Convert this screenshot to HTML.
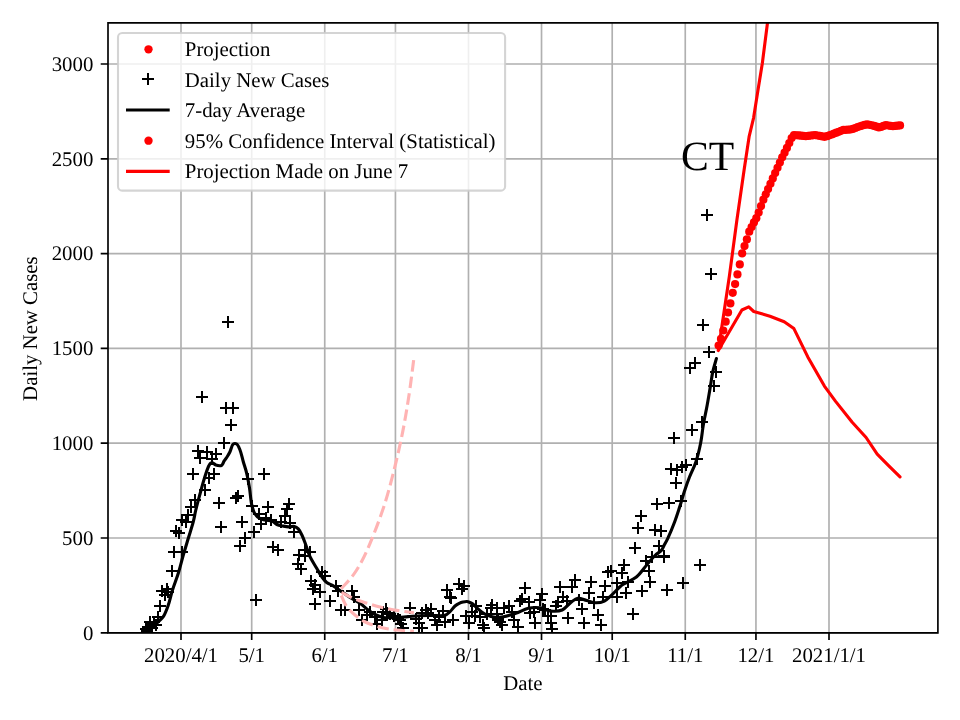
<!DOCTYPE html><html><head><meta charset="utf-8"><style>html,body{margin:0;padding:0;background:#fff;width:960px;height:720px;overflow:hidden}svg{display:block;will-change:transform}text{font-family:"Liberation Serif",serif;-webkit-font-smoothing:antialiased;text-rendering:geometricPrecision}</style></head><body>
<svg width="960" height="720" viewBox="0 0 960 720">
<rect width="960" height="720" fill="#fff"/>
<defs><clipPath id="ax"><rect x="108.0" y="22.8" width="829.9" height="610.0"/></clipPath></defs>
<path d="M181.00 22.8V632.8M251.69 22.8V632.8M324.74 22.8V632.8M395.43 22.8V632.8M468.48 22.8V632.8M541.52 22.8V632.8M612.21 22.8V632.8M685.26 22.8V632.8M755.95 22.8V632.8M829.00 22.8V632.8M108.0 632.80H937.9M108.0 538.00H937.9M108.0 443.20H937.9M108.0 348.40H937.9M108.0 253.60H937.9M108.0 158.80H937.9M108.0 64.00H937.9" stroke="#b0b0b0" stroke-width="1.67" fill="none"/>
<g clip-path="url(#ax)">
<path d="M156 590h12v2h-12zM161 585h2v12h-2zM161 588h12v2h-12zM166 583h2v12h-2zM162 591h12v2h-12zM167 586h2v12h-2zM159 594h12v2h-12zM164 589h2v12h-2zM154 605h12v2h-12zM159 600h2v12h-2zM152 616h12v2h-12zM157 611h2v12h-2zM144 621h12v2h-12zM149 616h2v12h-2zM148 621h12v2h-12zM153 616h2v12h-2zM142 626h12v2h-12zM147 621h2v12h-2zM140 628h12v2h-12zM145 623h2v12h-2zM141 630h12v2h-12zM146 625h2v12h-2zM146 627h12v2h-12zM151 622h2v12h-2zM150 624h12v2h-12zM155 619h2v12h-2zM168 551h12v2h-12zM173 546h2v12h-2zM176 551h12v2h-12zM181 546h2v12h-2zM166 570h12v2h-12zM171 565h2v12h-2zM187 473h12v2h-12zM192 468h2v12h-2zM203 477h12v2h-12zM208 472h2v12h-2zM208 473h12v2h-12zM213 468h2v12h-2zM199 489h12v2h-12zM204 484h2v12h-2zM189 499h12v2h-12zM194 494h2v12h-2zM185 506h12v2h-12zM190 501h2v12h-2zM182 514h12v2h-12zM187 509h2v12h-2zM176 519h12v2h-12zM181 514h2v12h-2zM180 521h12v2h-12zM185 516h2v12h-2zM170 530h12v2h-12zM175 525h2v12h-2zM173 532h12v2h-12zM178 527h2v12h-2zM213 502h12v2h-12zM218 497h2v12h-2zM230 497h12v2h-12zM235 492h2v12h-2zM232 495h12v2h-12zM237 490h2v12h-2zM215 526h12v2h-12zM220 521h2v12h-2zM236 521h12v2h-12zM241 516h2v12h-2zM239 537h12v2h-12zM244 532h2v12h-2zM234 545h12v2h-12zM239 540h2v12h-2zM242 478h12v2h-12zM247 473h2v12h-2zM246 505h12v2h-12zM251 500h2v12h-2zM222 321h12v2h-12zM227 316h2v12h-2zM196 396h12v2h-12zM201 391h2v12h-2zM220 407h12v2h-12zM225 402h2v12h-2zM227 407h12v2h-12zM232 402h2v12h-2zM225 424h12v2h-12zM230 419h2v12h-2zM218 442h12v2h-12zM223 437h2v12h-2zM192 450h12v2h-12zM197 445h2v12h-2zM194 457h12v2h-12zM199 452h2v12h-2zM201 451h12v2h-12zM206 446h2v12h-2zM210 453h12v2h-12zM215 448h2v12h-2zM206 458h12v2h-12zM211 453h2v12h-2zM258 473h12v2h-12zM263 468h2v12h-2zM253 513h12v2h-12zM258 508h2v12h-2zM262 506h12v2h-12zM267 501h2v12h-2zM283 503h12v2h-12zM288 498h2v12h-2zM281 508h12v2h-12zM286 503h2v12h-2zM279 515h12v2h-12zM284 510h2v12h-2zM260 517h12v2h-12zM265 512h2v12h-2zM255 523h12v2h-12zM260 518h2v12h-2zM265 519h12v2h-12zM270 514h2v12h-2zM275 521h12v2h-12zM280 516h2v12h-2zM284 522h12v2h-12zM289 517h2v12h-2zM288 531h12v2h-12zM293 526h2v12h-2zM248 531h12v2h-12zM253 526h2v12h-2zM267 546h12v2h-12zM272 541h2v12h-2zM272 549h12v2h-12zM277 544h2v12h-2zM250 599h12v2h-12zM255 594h2v12h-2zM293 554h12v2h-12zM298 549h2v12h-2zM299 549h12v2h-12zM304 544h2v12h-2zM304 551h12v2h-12zM309 546h2v12h-2zM299 555h12v2h-12zM304 550h2v12h-2zM292 563h12v2h-12zM297 558h2v12h-2zM295 568h12v2h-12zM300 563h2v12h-2zM316 571h12v2h-12zM321 566h2v12h-2zM319 575h12v2h-12zM324 570h2v12h-2zM305 580h12v2h-12zM310 575h2v12h-2zM309 584h12v2h-12zM314 579h2v12h-2zM307 588h12v2h-12zM312 583h2v12h-2zM314 591h12v2h-12zM319 586h2v12h-2zM309 603h12v2h-12zM314 598h2v12h-2zM573 599h12v2h-12zM578 594h2v12h-2zM576 608h12v2h-12zM581 603h2v12h-2zM578 622h12v2h-12zM583 617h2v12h-2zM585 581h12v2h-12zM590 576h2v12h-2zM583 592h12v2h-12zM588 587h2v12h-2zM588 602h12v2h-12zM593 597h2v12h-2zM592 614h12v2h-12zM597 609h2v12h-2zM595 624h12v2h-12zM600 619h2v12h-2zM599 585h12v2h-12zM604 580h2v12h-2zM597 596h12v2h-12zM602 591h2v12h-2zM602 571h12v2h-12zM607 566h2v12h-2zM605 570h12v2h-12zM610 565h2v12h-2zM611 582h12v2h-12zM616 577h2v12h-2zM611 596h12v2h-12zM616 591h2v12h-2zM618 564h12v2h-12zM623 559h2v12h-2zM616 572h12v2h-12zM621 567h2v12h-2zM620 592h12v2h-12zM625 587h2v12h-2zM622 581h12v2h-12zM627 576h2v12h-2zM627 613h12v2h-12zM632 608h2v12h-2zM629 547h12v2h-12zM634 542h2v12h-2zM636 590h12v2h-12zM641 585h2v12h-2zM640 560h12v2h-12zM645 555h2v12h-2zM643 570h12v2h-12zM648 565h2v12h-2zM644 581h12v2h-12zM649 576h2v12h-2zM646 556h12v2h-12zM651 551h2v12h-2zM653 545h12v2h-12zM658 540h2v12h-2zM658 556h12v2h-12zM663 551h2v12h-2zM661 589h12v2h-12zM666 584h2v12h-2zM696 421h12v2h-12zM701 416h2v12h-2zM686 429h12v2h-12zM691 424h2v12h-2zM668 437h12v2h-12zM673 432h2v12h-2zM691 458h12v2h-12zM696 453h2v12h-2zM680 464h12v2h-12zM685 459h2v12h-2zM676 466h12v2h-12zM681 461h2v12h-2zM665 468h12v2h-12zM670 463h2v12h-2zM671 469h12v2h-12zM676 464h2v12h-2zM670 482h12v2h-12zM675 477h2v12h-2zM675 500h12v2h-12zM680 495h2v12h-2zM663 502h12v2h-12zM668 497h2v12h-2zM651 503h12v2h-12zM656 498h2v12h-2zM635 515h12v2h-12zM640 510h2v12h-2zM632 527h12v2h-12zM637 522h2v12h-2zM649 529h12v2h-12zM654 524h2v12h-2zM655 530h12v2h-12zM660 525h2v12h-2zM658 555h12v2h-12zM663 550h2v12h-2zM701 214h12v2h-12zM706 209h2v12h-2zM705 273h12v2h-12zM710 268h2v12h-2zM697 324h12v2h-12zM702 319h2v12h-2zM703 351h12v2h-12zM708 346h2v12h-2zM689 362h12v2h-12zM694 357h2v12h-2zM684 367h12v2h-12zM689 362h2v12h-2zM710 371h12v2h-12zM715 366h2v12h-2zM708 385h12v2h-12zM713 380h2v12h-2zM330 585h12v2h-12zM335 580h2v12h-2zM332 590h12v2h-12zM337 585h2v12h-2zM324 600h12v2h-12zM329 595h2v12h-2zM346 590h12v2h-12zM351 585h2v12h-2zM348 596h12v2h-12zM353 591h2v12h-2zM335 609h12v2h-12zM340 604h2v12h-2zM339 609h12v2h-12zM344 604h2v12h-2zM353 609h12v2h-12zM358 604h2v12h-2zM356 619h12v2h-12zM361 614h2v12h-2zM364 611h12v2h-12zM369 606h2v12h-2zM369 616h12v2h-12zM374 611h2v12h-2zM371 623h12v2h-12zM376 618h2v12h-2zM377 611h12v2h-12zM382 606h2v12h-2zM376 619h12v2h-12zM381 614h2v12h-2zM361 614h12v2h-12zM366 609h2v12h-2zM380 608h12v2h-12zM385 603h2v12h-2zM381 612h12v2h-12zM386 607h2v12h-2zM384 613h12v2h-12zM389 608h2v12h-2zM388 615h12v2h-12zM393 610h2v12h-2zM392 618h12v2h-12zM397 613h2v12h-2zM394 619h12v2h-12zM399 614h2v12h-2zM395 623h12v2h-12zM400 618h2v12h-2zM397 627h12v2h-12zM402 622h2v12h-2zM404 607h12v2h-12zM409 602h2v12h-2zM410 618h12v2h-12zM415 613h2v12h-2zM413 622h12v2h-12zM418 617h2v12h-2zM413 627h12v2h-12zM418 622h2v12h-2zM441 589h12v2h-12zM446 584h2v12h-2zM444 596h12v2h-12zM449 591h2v12h-2zM445 597h12v2h-12zM450 592h2v12h-2zM453 583h12v2h-12zM458 578h2v12h-2zM458 585h12v2h-12zM463 580h2v12h-2zM456 588h12v2h-12zM461 583h2v12h-2zM420 609h12v2h-12zM425 604h2v12h-2zM425 608h12v2h-12zM430 603h2v12h-2zM416 612h12v2h-12zM421 607h2v12h-2zM422 612h12v2h-12zM427 607h2v12h-2zM429 619h12v2h-12zM434 614h2v12h-2zM431 624h12v2h-12zM436 619h2v12h-2zM437 610h12v2h-12zM442 605h2v12h-2zM439 621h12v2h-12zM444 616h2v12h-2zM433 616h12v2h-12zM438 611h2v12h-2zM447 619h12v2h-12zM452 614h2v12h-2zM416 627h12v2h-12zM421 622h2v12h-2zM460 615h12v2h-12zM465 610h2v12h-2zM463 622h12v2h-12zM468 617h2v12h-2zM466 611h12v2h-12zM471 606h2v12h-2zM470 605h12v2h-12zM475 600h2v12h-2zM469 615h12v2h-12zM474 610h2v12h-2zM474 616h12v2h-12zM479 611h2v12h-2zM478 627h12v2h-12zM483 622h2v12h-2zM477 624h12v2h-12zM482 619h2v12h-2zM485 607h12v2h-12zM490 602h2v12h-2zM486 604h12v2h-12zM491 599h2v12h-2zM491 613h12v2h-12zM496 608h2v12h-2zM492 619h12v2h-12zM497 614h2v12h-2zM481 613h12v2h-12zM486 608h2v12h-2zM519 587h12v2h-12zM524 582h2v12h-2zM536 593h12v2h-12zM541 588h2v12h-2zM534 599h12v2h-12zM539 594h2v12h-2zM514 600h12v2h-12zM519 595h2v12h-2zM516 598h12v2h-12zM521 593h2v12h-2zM523 601h12v2h-12zM528 596h2v12h-2zM503 605h12v2h-12zM508 600h2v12h-2zM498 607h12v2h-12zM503 602h2v12h-2zM491 607h12v2h-12zM496 602h2v12h-2zM506 611h12v2h-12zM511 606h2v12h-2zM492 618h12v2h-12zM497 613h2v12h-2zM494 621h12v2h-12zM499 616h2v12h-2zM496 624h12v2h-12zM501 619h2v12h-2zM508 619h12v2h-12zM513 614h2v12h-2zM512 626h12v2h-12zM517 621h2v12h-2zM524 612h12v2h-12zM529 607h2v12h-2zM528 611h12v2h-12zM533 606h2v12h-2zM529 622h12v2h-12zM534 617h2v12h-2zM539 609h12v2h-12zM544 604h2v12h-2zM542 615h12v2h-12zM547 610h2v12h-2zM545 622h12v2h-12zM550 617h2v12h-2zM546 628h12v2h-12zM551 623h2v12h-2zM554 586h12v2h-12zM559 581h2v12h-2zM552 601h12v2h-12zM557 596h2v12h-2zM550 605h12v2h-12zM555 600h2v12h-2zM557 596h12v2h-12zM562 591h2v12h-2zM562 617h12v2h-12zM567 612h2v12h-2zM561 600h12v2h-12zM566 595h2v12h-2zM566 586h12v2h-12zM571 581h2v12h-2zM569 579h12v2h-12zM574 574h2v12h-2zM694 564h12v2h-12zM699 559h2v12h-2zM677 582h12v2h-12zM682 577h2v12h-2zM545 615h12v2h-12zM550 610h2v12h-2zM537 608h12v2h-12zM542 603h2v12h-2z" fill="#000" shape-rendering="crispEdges"/>
<path d="M145.80 631.70C147.87 630.30 149.92 629.16 152.00 627.50C154.38 625.60 157.15 622.78 159.20 620.80C160.77 619.28 162.04 618.54 163.30 616.70C165.09 614.09 166.57 609.98 168.00 606.00C169.70 601.25 170.82 595.36 172.50 590.00C174.24 584.47 176.53 579.02 178.30 573.30C180.14 567.37 181.60 560.95 183.30 555.00C184.93 549.30 186.63 543.86 188.30 538.30C189.96 532.76 192.00 526.78 193.30 521.70C194.38 517.48 194.80 514.19 195.80 510.00C196.97 505.07 198.55 499.33 200.00 494.00C201.45 488.66 202.97 482.87 204.50 478.00C205.81 473.83 207.26 469.13 208.50 466.50C209.20 465.02 209.69 463.77 210.50 463.20C211.09 462.79 211.78 462.66 212.50 462.80C213.50 463.00 214.47 464.56 215.80 465.00C217.42 465.54 220.29 466.08 221.70 465.30C223.02 464.57 223.29 462.21 224.20 460.80C225.07 459.45 226.09 458.40 227.00 457.00C228.03 455.41 229.03 453.66 230.00 451.70C231.14 449.40 231.79 445.00 233.30 444.00C234.27 443.36 235.71 443.42 236.70 444.00C238.10 444.83 239.02 447.60 240.00 450.00C241.31 453.19 242.18 457.81 243.30 461.70C244.42 465.58 245.71 469.18 246.70 473.30C247.81 477.89 248.68 482.94 249.50 488.00C250.36 493.35 250.64 499.99 251.70 504.60C252.49 508.01 253.16 510.94 254.60 513.30C255.85 515.34 257.56 517.06 259.40 518.20C261.15 519.28 263.24 519.62 265.30 520.10C267.47 520.60 270.11 520.30 272.10 521.10C273.94 521.84 275.13 523.68 276.90 524.50C278.70 525.33 280.83 525.60 282.80 526.00C284.73 526.39 286.66 526.83 288.60 526.90C290.53 526.97 292.72 525.98 294.40 526.40C295.90 526.77 297.13 527.67 298.30 528.90C299.82 530.50 301.03 533.28 302.20 535.70C303.45 538.29 304.35 540.93 305.50 544.00C306.92 547.77 308.13 552.64 310.00 556.70C311.87 560.74 314.62 564.75 316.70 568.30C318.48 571.33 319.92 574.23 321.70 576.70C323.28 578.89 324.74 580.98 326.70 582.50C328.62 584.00 331.02 584.44 333.30 585.80C335.99 587.40 338.91 589.74 341.70 591.70C344.47 593.64 347.06 595.63 350.00 597.50C353.14 599.50 356.90 601.17 360.00 603.30C362.98 605.35 365.64 608.04 368.30 610.00C370.61 611.71 372.57 613.27 375.00 614.50C377.55 615.79 380.28 616.96 383.30 617.50C386.68 618.11 390.51 617.73 394.40 617.60C398.71 617.46 403.61 616.93 408.00 616.60C412.13 616.29 416.00 615.88 420.00 615.70C424.00 615.52 427.92 615.57 432.00 615.50C436.25 615.43 441.80 616.36 445.00 615.30C447.20 614.57 448.41 613.14 450.00 611.70C451.76 610.10 453.30 607.46 455.00 606.00C456.38 604.81 457.79 603.98 459.20 603.30C460.46 602.69 461.70 602.30 463.00 602.00C464.30 601.70 465.69 601.35 467.00 601.50C468.35 601.66 469.75 602.34 471.00 603.00C472.25 603.67 473.35 604.54 474.50 605.50C475.78 606.57 476.81 607.92 478.30 609.20C480.18 610.80 482.41 612.88 485.00 614.20C487.89 615.67 491.79 616.93 495.00 617.30C497.86 617.63 500.28 617.22 503.30 616.70C507.07 616.06 511.67 614.68 515.80 613.30C520.01 611.89 524.13 609.20 528.30 608.30C532.19 607.46 536.19 607.33 540.00 607.80C543.79 608.27 547.36 610.74 551.10 611.10C554.77 611.45 558.90 611.43 562.20 610.00C565.60 608.53 568.25 604.25 571.10 602.20C573.41 600.54 575.33 598.64 577.80 598.30C580.49 597.93 583.73 599.85 586.70 600.60C589.66 601.35 592.63 602.72 595.60 602.80C598.53 602.88 601.80 602.32 604.40 601.10C606.96 599.90 608.76 597.72 611.10 595.60C613.92 593.05 617.70 588.70 620.00 586.70C621.32 585.55 621.78 585.19 623.30 584.20C626.22 582.29 632.80 579.90 636.70 576.70C640.60 573.50 643.51 568.69 646.70 565.00C649.59 561.66 652.27 558.14 655.00 555.50C657.26 553.31 660.16 551.91 661.70 550.00C662.87 548.54 663.13 547.17 664.00 545.50C665.10 543.38 666.42 541.23 667.80 538.30C669.85 533.94 672.61 527.28 674.70 521.70C676.77 516.18 678.64 510.23 680.30 505.00C681.76 500.41 682.74 496.47 684.20 492.00C685.78 487.16 687.57 481.95 689.50 477.00C691.44 472.02 694.00 467.54 695.80 462.20C697.81 456.24 699.44 449.16 700.70 442.80C701.90 436.77 702.26 431.09 703.30 425.00C704.41 418.51 705.98 411.67 707.20 405.00C708.42 398.34 709.60 390.99 710.60 385.00C711.42 380.12 711.84 376.09 712.80 371.70C713.77 367.29 715.20 362.97 716.40 358.60" stroke="#000" stroke-width="3.125" fill="none" stroke-linejoin="round" stroke-linecap="round"/>
<path d="M341.00 588.90C345.00 584.40 349.47 580.15 353.00 575.40C356.44 570.77 359.09 566.28 362.00 560.80C365.46 554.27 368.60 546.94 372.00 538.60C376.24 528.20 381.14 515.14 385.00 503.00C388.93 490.62 392.38 476.76 395.30 465.00C397.81 454.90 399.87 445.52 401.70 436.70C403.30 429.00 404.48 422.62 405.80 415.00C407.26 406.57 408.66 397.65 410.00 388.30C411.47 378.01 412.80 366.63 414.20 355.80" stroke="#ffb3b3" stroke-width="3.125" stroke-dasharray="11.56 5" fill="none"/>
<path d="M341.50 592.30C344.33 593.80 347.06 595.40 350.00 596.80C353.03 598.24 356.31 599.66 359.40 600.80C362.30 601.87 364.96 602.56 368.00 603.50C371.42 604.55 375.41 605.89 378.90 606.80C382.05 607.62 384.87 608.18 388.00 608.80C391.32 609.45 394.51 610.00 398.30 610.60C402.96 611.34 408.70 612.07 413.90 612.80" stroke="#ffb3b3" stroke-width="3.125" stroke-dasharray="11.56 5" fill="none"/>
<path d="M341.30 595.50C342.03 597.17 342.70 598.82 343.50 600.50C344.33 602.25 345.12 604.14 346.20 605.80C347.29 607.47 348.61 609.03 350.00 610.50C351.41 612.00 353.12 613.47 354.60 614.70C355.88 615.76 356.90 616.51 358.30 617.50C360.04 618.74 362.03 620.29 364.30 621.50C366.94 622.90 370.19 624.13 373.30 625.20C376.51 626.31 380.22 627.29 383.30 628.00C385.88 628.59 387.93 628.93 390.50 629.30C393.44 629.72 396.53 629.99 400.00 630.30C404.19 630.67 409.27 630.97 413.90 631.30" stroke="#ffb3b3" stroke-width="3.125" stroke-dasharray="11.56 5" fill="none"/>
<path d="M718.30 350.50 L729.40 276.00 L736.90 220.00 L744.10 170.00 L749.10 136.70 L753.60 117.80 L758.00 90.00 L762.30 63.50 L767.50 22.80 L769.00 12.00" stroke="#ff0000" stroke-width="3.125" fill="none" stroke-linejoin="round"/>
<path d="M718.30 350.50 L741.90 310.00 L748.75 306.90 L753.75 311.50 L770.00 316.25 L784.20 321.70 L793.90 328.60 L807.80 356.90 L824.40 386.10 L835.60 401.40 L852.20 422.20 L866.10 437.50 L877.20 454.20 L888.30 465.30 L900.00 476.90" stroke="#ff0000" stroke-width="3.125" fill="none" stroke-linejoin="round" stroke-linecap="round"/>
<g fill="#ff0000"><circle cx="718.60" cy="345.50" r="4.1"/><circle cx="720.96" cy="338.90" r="4.1"/><circle cx="723.31" cy="330.50" r="4.1"/><circle cx="725.67" cy="321.70" r="4.1"/><circle cx="728.03" cy="312.50" r="4.1"/><circle cx="730.38" cy="303.40" r="4.1"/><circle cx="732.74" cy="292.80" r="4.1"/><circle cx="735.09" cy="284.10" r="4.1"/><circle cx="737.45" cy="274.40" r="4.1"/><circle cx="739.81" cy="264.40" r="4.1"/><circle cx="742.16" cy="253.30" r="4.1"/><circle cx="744.52" cy="246.10" r="4.1"/><circle cx="746.88" cy="239.40" r="4.1"/><circle cx="749.23" cy="231.70" r="4.1"/><circle cx="751.59" cy="227.05" r="4.1"/><circle cx="753.95" cy="222.41" r="4.1"/><circle cx="756.30" cy="218.20" r="4.1"/><circle cx="758.66" cy="212.58" r="4.1"/><circle cx="761.01" cy="206.09" r="4.1"/><circle cx="763.37" cy="199.64" r="4.1"/><circle cx="765.73" cy="194.35" r="4.1"/><circle cx="768.08" cy="189.06" r="4.1"/><circle cx="770.44" cy="183.75" r="4.1"/><circle cx="772.80" cy="178.42" r="4.1"/><circle cx="775.15" cy="173.09" r="4.1"/><circle cx="777.51" cy="167.79" r="4.1"/><circle cx="779.87" cy="162.50" r="4.1"/><circle cx="782.22" cy="157.36" r="4.1"/><circle cx="784.58" cy="152.64" r="4.1"/><circle cx="786.93" cy="147.93" r="4.1"/><circle cx="789.29" cy="143.04" r="4.1"/><circle cx="791.65" cy="138.07" r="4.1"/><circle cx="794.00" cy="135.07" r="4.1"/><circle cx="796.36" cy="135.24" r="4.1"/><circle cx="798.72" cy="135.41" r="4.1"/><circle cx="801.07" cy="135.64" r="4.1"/><circle cx="803.43" cy="135.96" r="4.1"/><circle cx="805.79" cy="136.23" r="4.1"/><circle cx="808.14" cy="135.91" r="4.1"/><circle cx="810.50" cy="135.60" r="4.1"/><circle cx="812.85" cy="135.29" r="4.1"/><circle cx="815.21" cy="135.04" r="4.1"/><circle cx="817.57" cy="135.49" r="4.1"/><circle cx="819.92" cy="135.94" r="4.1"/><circle cx="822.28" cy="136.38" r="4.1"/><circle cx="824.64" cy="136.83" r="4.1"/><circle cx="826.99" cy="136.18" r="4.1"/><circle cx="829.35" cy="135.33" r="4.1"/><circle cx="831.71" cy="134.49" r="4.1"/><circle cx="834.06" cy="133.62" r="4.1"/><circle cx="836.42" cy="132.68" r="4.1"/><circle cx="838.77" cy="131.73" r="4.1"/><circle cx="841.13" cy="130.79" r="4.1"/><circle cx="843.49" cy="129.97" r="4.1"/><circle cx="845.84" cy="129.81" r="4.1"/><circle cx="848.20" cy="129.65" r="4.1"/><circle cx="850.56" cy="129.49" r="4.1"/><circle cx="852.91" cy="128.95" r="4.1"/><circle cx="855.27" cy="128.00" r="4.1"/><circle cx="857.63" cy="127.05" r="4.1"/><circle cx="859.98" cy="126.27" r="4.1"/><circle cx="862.34" cy="125.58" r="4.1"/><circle cx="864.69" cy="124.89" r="4.1"/><circle cx="867.05" cy="124.36" r="4.1"/><circle cx="869.41" cy="124.80" r="4.1"/><circle cx="871.76" cy="125.24" r="4.1"/><circle cx="874.12" cy="125.96" r="4.1"/><circle cx="876.48" cy="126.72" r="4.1"/><circle cx="878.83" cy="127.48" r="4.1"/><circle cx="881.19" cy="126.95" r="4.1"/><circle cx="883.55" cy="125.91" r="4.1"/><circle cx="885.90" cy="125.06" r="4.1"/><circle cx="888.26" cy="125.51" r="4.1"/><circle cx="890.61" cy="125.96" r="4.1"/><circle cx="892.97" cy="126.23" r="4.1"/><circle cx="895.33" cy="125.96" r="4.1"/><circle cx="897.68" cy="125.69" r="4.1"/><circle cx="900.04" cy="125.41" r="4.1"/></g>
</g>
<text x="681" y="170" font-size="41.67" fill="#000">CT</text>
<path d="M108.0 22.8H937.9V632.8H108.0Z" stroke="#000" stroke-width="1.67" fill="none" stroke-linejoin="miter"/>
<path d="M181.00 632.8v7.29M251.69 632.8v7.29M324.74 632.8v7.29M395.43 632.8v7.29M468.48 632.8v7.29M541.52 632.8v7.29M612.21 632.8v7.29M685.26 632.8v7.29M755.95 632.8v7.29M829.00 632.8v7.29M108.0 632.80h-7.29M108.0 538.00h-7.29M108.0 443.20h-7.29M108.0 348.40h-7.29M108.0 253.60h-7.29M108.0 158.80h-7.29M108.0 64.00h-7.29" stroke="#000" stroke-width="1.67" fill="none"/>
<text x="181.00" y="662" font-size="20.83" text-anchor="middle">2020/4/1</text>
<text x="251.69" y="662" font-size="20.83" text-anchor="middle">5/1</text>
<text x="324.74" y="662" font-size="20.83" text-anchor="middle">6/1</text>
<text x="395.43" y="662" font-size="20.83" text-anchor="middle">7/1</text>
<text x="468.48" y="662" font-size="20.83" text-anchor="middle">8/1</text>
<text x="541.52" y="662" font-size="20.83" text-anchor="middle">9/1</text>
<text x="612.21" y="662" font-size="20.83" text-anchor="middle">10/1</text>
<text x="685.26" y="662" font-size="20.83" text-anchor="middle">11/1</text>
<text x="755.95" y="662" font-size="20.83" text-anchor="middle">12/1</text>
<text x="829.00" y="662" font-size="20.83" text-anchor="middle">2021/1/1</text>
<text x="93.3" y="639.60" font-size="20.83" text-anchor="end">0</text>
<text x="93.3" y="544.80" font-size="20.83" text-anchor="end">500</text>
<text x="93.3" y="450.00" font-size="20.83" text-anchor="end">1000</text>
<text x="93.3" y="355.20" font-size="20.83" text-anchor="end">1500</text>
<text x="93.3" y="260.40" font-size="20.83" text-anchor="end">2000</text>
<text x="93.3" y="165.60" font-size="20.83" text-anchor="end">2500</text>
<text x="93.3" y="70.80" font-size="20.83" text-anchor="end">3000</text>
<text x="522.95" y="689.8" font-size="20.83" text-anchor="middle">Date</text>
<text transform="translate(37,328.60) rotate(-90)" font-size="20.83" text-anchor="middle">Daily New Cases</text>
<rect x="118.0" y="33.0" width="387.10" height="157.60" rx="4.17" fill="#fff" fill-opacity="0.8" stroke="#cccccc" stroke-opacity="0.85" stroke-width="2.08"/>
<text x="184.8" y="55.7" font-size="20.83">Projection</text>
<text x="184.8" y="86.9" font-size="20.83">Daily New Cases</text>
<text x="184.8" y="117.1" font-size="20.83">7-day Average</text>
<text x="184.8" y="147.8" font-size="20.83">95% Confidence Interval (Statistical)</text>
<text x="184.8" y="178.0" font-size="20.83">Projection Made on June 7</text>
<circle cx="148.5" cy="49.3" r="4.17" fill="#ff0000"/>
<path d="M142 78h12v2h-12zM147 73h2v12h-2z" fill="#000" shape-rendering="crispEdges"/>
<path d="M126 110h43.7" stroke="#000" stroke-width="3.125" fill="none"/>
<circle cx="148.5" cy="140.7" r="4.17" fill="#ff0000"/>
<path d="M126 171.4h43.7" stroke="#ff0000" stroke-width="3.125" fill="none"/>
</svg></body></html>
